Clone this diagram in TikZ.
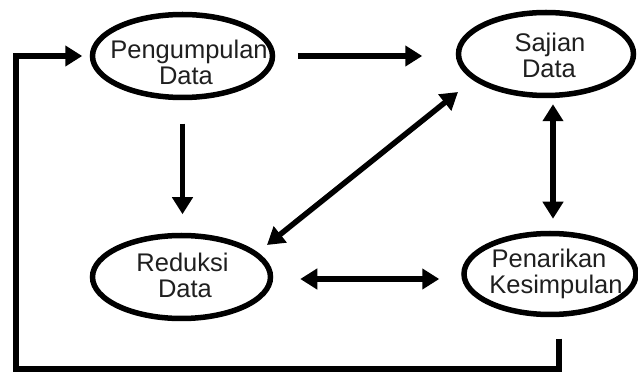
\documentclass[tikz,border=0pt]{standalone}
\usepackage{fontspec}
\setmainfont{Liberation Sans}
\usetikzlibrary{arrows.meta,calc,shapes.geometric}
\tikzset{
  proc/.style={ellipse, draw, line width=5.5pt, inner sep=0pt},
  lbl/.style={font=\fontsize{25.5}{30}\selectfont, anchor=base, inner sep=0pt, text=black!88},
  tipA/.tip={Triangle[length=17pt,width=20pt]},
  arr/.style={line width=5.5pt, -tipA},
  dbl/.style={line width=5.5pt, tipA-tipA}
}
\begin{document}
\begin{tikzpicture}[x=1pt,y=-1pt]
  \useasboundingbox (0,0) rectangle (638,374);

  % process stages
  \node[proc, minimum width=180pt, minimum height=83pt] (peng) at (182.5,56) {};
  \node[proc, minimum width=175pt, minimum height=83pt] (saj)  at (546,54) {};
  \node[proc, minimum width=178pt, minimum height=83pt] (red)  at (181.5,277) {};
  \node[proc, minimum width=172pt, minimum height=81pt] (pen)  at (550,274) {};

  % stage labels
  \node[lbl] (pengA) at (189,59)  {Pengumpulan};
  \node[lbl] (pengB) at (186,85)  {Data};
  \node[lbl] (sajA)  at (550,52)  {Sajian};
  \node[lbl] (sajB)  at (549,78)  {Data};
  \node[lbl] (redA)  at (182.5,272) {Reduksi};
  \node[lbl] (redB)  at (185,298) {Data};
  \node[lbl] (penA)  at (549,268) {Penarikan};
  \node[lbl] (penB)  at (556,294) {Kesimpulan};

  % flows between stages
  \draw[arr, shorten <=22.5pt, shorten >=33.5pt] (peng.east) -- (peng.east -| saj.west);
  \draw[arr, shorten <=23.5pt, shorten >=18.5pt, xshift=2.5pt] (peng.south) -- (peng.south |- red.north);
  \draw[dbl] ($(red)+(85.5,-32)$) -- ($(saj)+(-88,38)$);
  \draw[dbl] ($(saj.south)+(7,6)$) -- ($(pen.north)+(3,-12)$);
  \draw[dbl] ($(red.east)+(27,2)$) -- ($(pen.west)+(-22,5)$);

  % feedback loop back to the start
  \coordinate (loopBL) at (16,369);
  \draw[arr] ($(pen.south)+(9,21.5)$) |- (loopBL) |- ([xshift=-7.5pt]peng.west);
\end{tikzpicture}
\end{document}
